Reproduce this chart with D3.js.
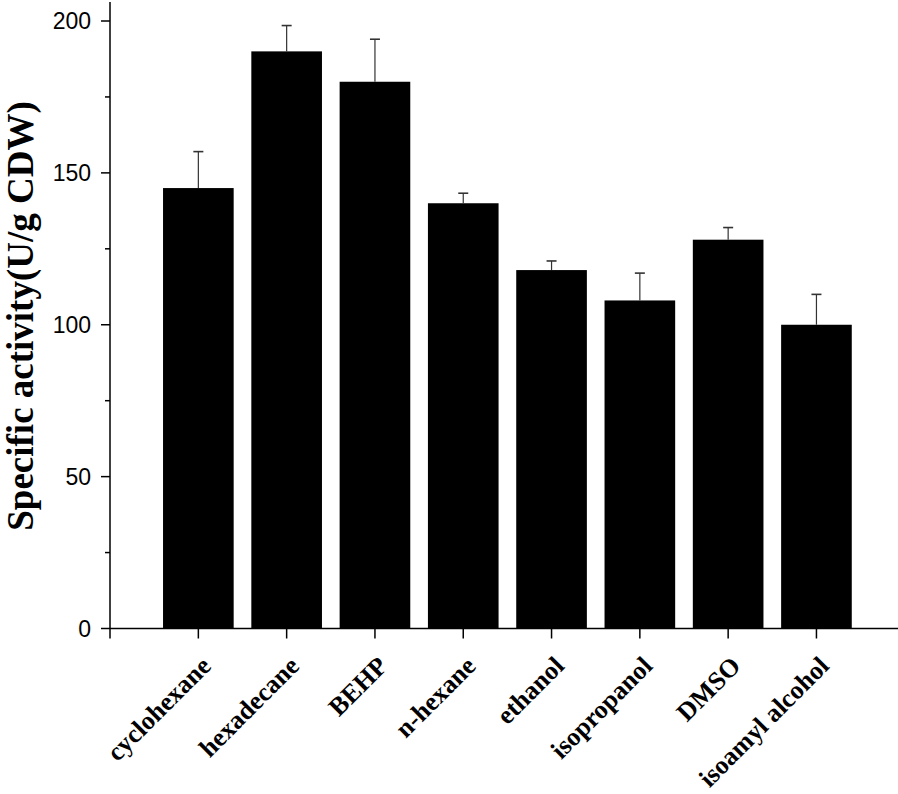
<!DOCTYPE html>
<html>
<head>
<meta charset="utf-8">
<script src="https://cdn.jsdelivr.net/npm/d3@7"></script>
<style>
  body { margin: 0; background: #fff; }
  svg { display: block; }
</style>
</head>
<body>
<div id="chart"></div>
<script>
// solvent categories and measured values
const solvents = ["cyclohexane", "hexadecane", "BEHP", "n-hexane", "ethanol", "isopropanol", "DMSO", "isoamyl alcohol"];
const activity = [145, 190, 180, 140, 118, 108, 128, 100];
const errors = [12, 8.5, 14, 3.3, 3, 9, 4, 10];
const yTicks = [0, 50, 100, 150, 200];
const yMinorTicks = [25, 75, 125, 175];

const svgWidth = 898;
const svgHeight = 794;

const svg = d3.select("#chart")
  .append("svg")
  .attr("width", svgWidth)
  .attr("height", svgHeight);

const x = d3.scaleBand()
  .domain(solvents)
  .range([154.2, 860.6])
  .paddingInner(0.2)
  .paddingOuter(0.1);

const y = d3.scaleLinear()
  .domain([0, 200])
  .range([628.5, 21]);

const axisLeftX = 110;

// bars
svg.selectAll(".bar")
  .data(solvents)
  .enter()
  .append("rect")
  .attr("x", (d) => x(d))
  .attr("y", (d, i) => y(activity[i]))
  .attr("width", x.bandwidth())
  .attr("height", (d, i) => y(0) - y(activity[i]))
  .attr("fill", "#000");

// error bars (upper only)
const err = svg.append("g").attr("stroke", "#333").attr("stroke-width", 1.2);
solvents.forEach((s, i) => {
  const cx = x(s) + x.bandwidth() / 2;
  err.append("line")
    .attr("x1", cx).attr("x2", cx)
    .attr("y1", y(activity[i])).attr("y2", y(activity[i] + errors[i]));
  err.append("line")
    .attr("x1", cx - 5).attr("x2", cx + 5)
    .attr("y1", y(activity[i] + errors[i])).attr("y2", y(activity[i] + errors[i]))
    .attr("stroke-width", 1.6);
});

// y axis
const yAxis = svg.append("g")
  .attr("transform", `translate(${axisLeftX},0)`);
yAxis.append("line")
  .attr("x1", 0).attr("x2", 0)
  .attr("y1", 2).attr("y2", y(0))
  .attr("stroke", "#000").attr("stroke-width", 1.5);
yAxis.selectAll(".major")
  .data(yTicks)
  .enter()
  .append("line")
  .attr("x1", -9).attr("x2", 0)
  .attr("y1", (d) => y(d)).attr("y2", (d) => y(d))
  .attr("stroke", "#000").attr("stroke-width", 1.5);
yAxis.selectAll(".minor")
  .data(yMinorTicks)
  .enter()
  .append("line")
  .attr("x1", -5).attr("x2", 0)
  .attr("y1", (d) => y(d)).attr("y2", (d) => y(d))
  .attr("stroke", "#000").attr("stroke-width", 1.5);
yAxis.selectAll(".lbl")
  .data(yTicks)
  .enter()
  .append("text")
  .attr("x", -19)
  .attr("y", (d) => y(d))
  .attr("dy", "0.36em")
  .attr("text-anchor", "end")
  .style("font-family", "'Liberation Sans', Arial, sans-serif")
  .style("font-size", "23px")
  .text((d) => d);

// x axis
const xAxis = svg.append("g");
xAxis.append("line")
  .attr("x1", axisLeftX).attr("x2", svgWidth)
  .attr("y1", y(0)).attr("y2", y(0))
  .attr("stroke", "#000").attr("stroke-width", 1.5);
xAxis.selectAll(".tick")
  .data([null].concat(solvents))
  .enter()
  .append("line")
  .attr("x1", (d) => d === null ? axisLeftX : x(d) + x.bandwidth() / 2)
  .attr("x2", (d) => d === null ? axisLeftX : x(d) + x.bandwidth() / 2)
  .attr("y1", y(0)).attr("y2", y(0) + 10)
  .attr("stroke", "#000").attr("stroke-width", 1.5);
xAxis.selectAll(".xlbl")
  .data(solvents)
  .enter()
  .append("text")
  .attr("transform", (d) => `translate(${x(d) + x.bandwidth() / 2 + 14},${y(0) + 39}) rotate(-45)`)
  .attr("text-anchor", "end")
  .style("font-family", "'Liberation Serif', 'Times New Roman', serif")
  .style("font-weight", "bold")
  .style("font-size", "26px")
  .text((d) => d);

// y axis title
svg.append("text")
  .attr("transform", `translate(33,316) rotate(-90)`)
  .attr("text-anchor", "middle")
  .style("font-family", "'Liberation Serif', 'Times New Roman', serif")
  .style("font-weight", "bold")
  .style("font-size", "37px")
  .text("Specific activity(U/g CDW)");
</script>
</body>
</html>
